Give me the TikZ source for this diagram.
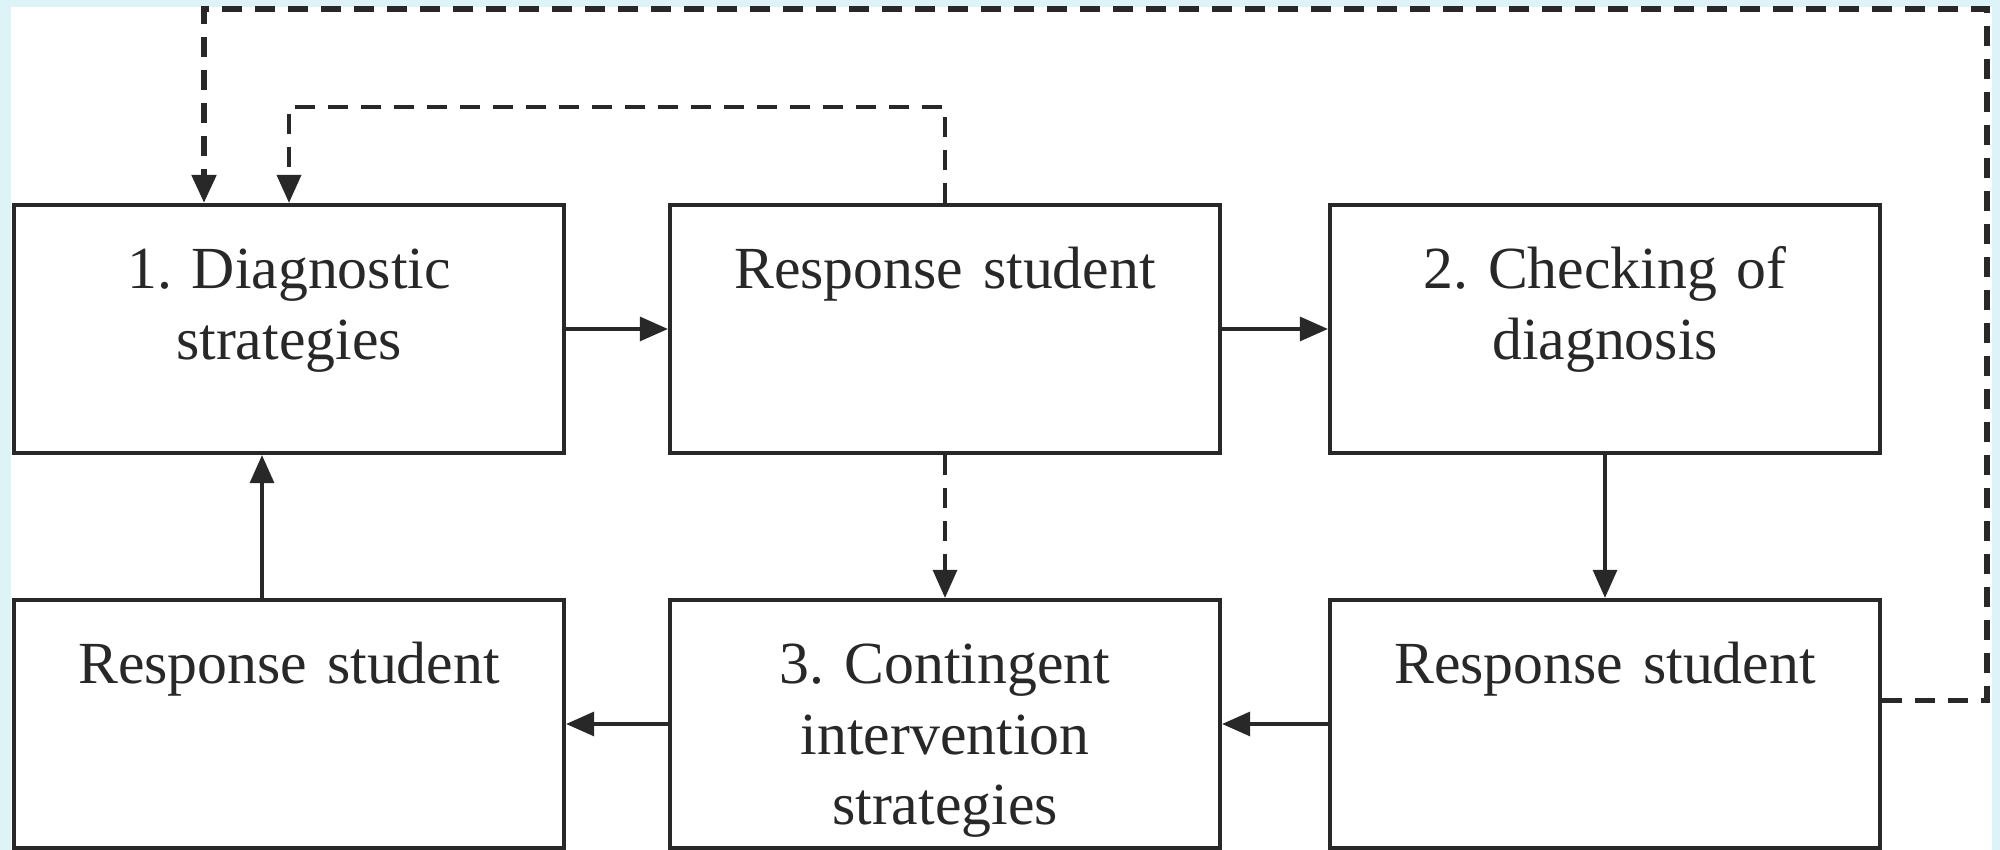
\documentclass[tikz,border=0pt]{standalone}
\usepackage{fontspec}
\setmainfont{Liberation Serif}
\usetikzlibrary{arrows.meta}
\definecolor{paleCyan}{RGB}{221,243,248}
\definecolor{inkGray}{RGB}{40,40,40}
\frenchspacing
\tikzset{
  stagebox/.style={rectangle, draw=inkGray, line width=1.2pt, fill=white,
    minimum width=5.5cm, inner sep=0pt, text width=5.3cm, align=center,
    text height=0.84cm, text depth=1.64cm, text=inkGray,
    font=\fontsize{17pt}{20pt}\selectfont},
  flow/.style={draw=inkGray, line width=0.9pt, -{Triangle[length=0.28cm,width=0.24cm]}},
  flowdash/.style={flow, dash pattern=on 0.2cm off 0.13cm},
}
\begin{document}
\begin{tikzpicture}
        \useasboundingbox (0,0) rectangle (20,8.5);
        \fill[paleCyan] (0,0) rectangle (20,8.5);
        \fill[white] (0.11,0) rectangle (19.92,8.43);

        % top row
        \node[stagebox] (diag) at (2.89,5.21) {1. Diagnostic\\strategies};
        \node[stagebox] (respT) at (9.45,5.21) {Response student};
        \node[stagebox] (check) at (16.05,5.21) {2. Checking of\\diagnosis};
        % bottom row
        \node[stagebox] (respL) at (2.89,1.26) {Response student};
        \node[stagebox] (contin) at (9.45,1.26) {3. Contingent\\intervention\\strategies};
        \node[stagebox] (respR) at (16.05,1.26) {Response student};
        \coordinate (outerNE) at (19.87,8.41);

        \draw[flow] (diag) -- (respT);
        \draw[flow] (respT) -- (check);
        \draw[flow] (check) -- (respR);
        \draw[flow] (respR) -- (contin);
        \draw[flow] (contin) -- (respL);
        \draw[flow] ([xshift=-0.27cm]respL.north) -- ([xshift=-0.27cm]diag.south);

        \draw[flowdash] (respT.south) -- (contin.north);
        \draw[flowdash, line width=1.1pt] (respT.north) -- ++(0,0.96) -| (diag.north);
        \draw[flowdash, line width=1.5pt] ([yshift=0.235cm]respR.east) -| (outerNE) -| ([xshift=-0.85cm]diag.north);
\end{tikzpicture}
\end{document}
